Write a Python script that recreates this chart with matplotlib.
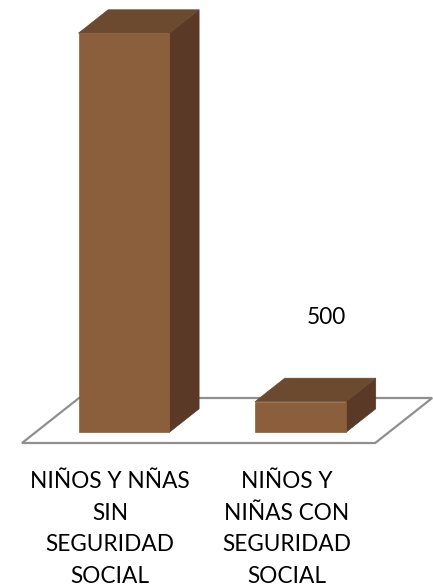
import matplotlib
matplotlib.use("Agg")
import matplotlib.pyplot as plt
from matplotlib.patches import Polygon

# Data
categories = ["NIÑOS Y NÑAS\nSIN\nSEGURIDAD\nSOCIAL",
              "NIÑOS Y\nNIÑAS CON\nSEGURIDAD\nSOCIAL"]
values = [6520, 500]
shown_labels = [False, True]

# Colours
FRONT = "#8B5E3C"
TOP = "#6B4A2F"
SIDE = "#5A3A26"
FLOOR = "#8F8F8F"

# Layout of the pseudo-3D scene (pixels)
W, H, DPI = 433, 586, 100
FLOOR_LEFT_PX, FLOOR_FRONT_PX = 22, 443
CAT_PX = 176.6            # width of one category along the front edge
VAL_PX = 0.0612           # pixels per value unit
DEPTH_PX = (57, 45)       # floor depth offset (right, up)
BAR_WIDTH = 0.515         # fraction of a category
BAR_D0, BAR_D1 = 0.24, 0.76  # bar depth span as fraction of floor depth

fig = plt.figure(figsize=(W / DPI, H / DPI), dpi=DPI)
ax = fig.add_axes([0, 0, 1, 1])
ax.axis("off")
ax.set_xlim(-FLOOR_LEFT_PX / CAT_PX, (W - FLOOR_LEFT_PX) / CAT_PX)
ax.set_ylim((FLOOR_FRONT_PX - H) / VAL_PX, FLOOR_FRONT_PX / VAL_PX)

DX = DEPTH_PX[0] / CAT_PX
DY = DEPTH_PX[1] / VAL_PX


def proj(x, v, d):
    return (x + d * DX, v + d * DY)


n = len(values)

# Floor outline
floor = [proj(0, 0, 0), proj(n, 0, 0), proj(n, 0, 1), proj(0, 0, 1)]
ax.add_patch(Polygon(floor, closed=True, fill=False, edgecolor=FLOOR,
                     linewidth=1.6, zorder=1))

# Bars drawn as prisms
for i, v in enumerate(values):
    x0 = i + 0.5 - BAR_WIDTH / 2
    x1 = i + 0.5 + BAR_WIDTH / 2
    front = [proj(x0, 0, BAR_D0), proj(x1, 0, BAR_D0),
             proj(x1, v, BAR_D0), proj(x0, v, BAR_D0)]
    top = [proj(x0, v, BAR_D0), proj(x1, v, BAR_D0),
           proj(x1, v, BAR_D1), proj(x0, v, BAR_D1)]
    side = [proj(x1, 0, BAR_D0), proj(x1, 0, BAR_D1),
            proj(x1, v, BAR_D1), proj(x1, v, BAR_D0)]
    for face, col in ((side, SIDE), (top, TOP), (front, FRONT)):
        ax.add_patch(Polygon(face, closed=True, facecolor=col,
                             edgecolor=col, linewidth=0.5, zorder=2))
    if shown_labels[i]:
        ax.annotate(f"{v:,}".replace(",", "."),
                    xy=proj(i + 0.5, v, BAR_D1), xytext=(-4, 61),
                    textcoords="offset pixels", ha="center", va="center",
                    fontsize=16.3, family=["Lato", "DejaVu Sans"], zorder=3)

# Category labels under the front floor edge
for i, lab in enumerate(categories):
    ax.annotate(lab, xy=(i + 0.5, 0), xytext=(0, -28),
                textcoords="offset pixels", ha="center", va="top",
                fontsize=16.3, linespacing=1.63,
                family=["Lato", "DejaVu Sans"], color="black")

fig.savefig("out.png", dpi=DPI)
